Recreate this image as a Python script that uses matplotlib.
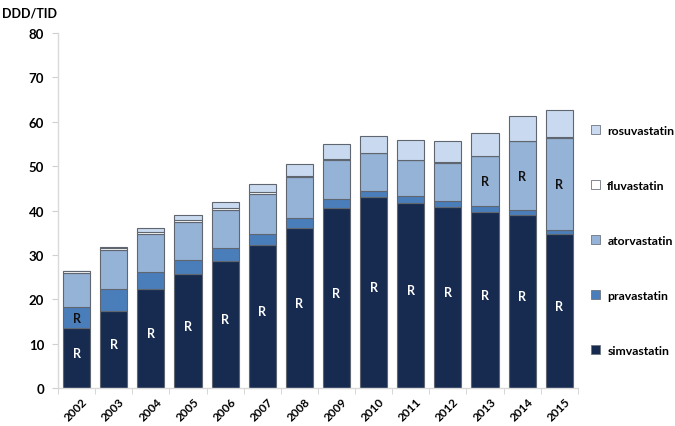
import matplotlib
matplotlib.use("Agg")
import matplotlib.pyplot as plt
from matplotlib.patches import Patch
from matplotlib.ticker import FixedLocator
from matplotlib.transforms import ScaledTranslation
import numpy as np

plt.rcParams['font.family'] = ['Lato', 'DejaVu Sans']
plt.rcParams['font.weight'] = 'bold'

years = ['2002', '2003', '2004', '2005', '2006', '2007', '2008',
         '2009', '2010', '2011', '2012', '2013', '2014', '2015']
simvastatin = [13.6, 17.4, 22.4, 25.7, 28.7, 32.3, 36.1, 40.7, 43.0, 41.8, 40.9, 39.8, 39.1, 34.8]
pravastatin = [4.6, 4.9, 3.9, 3.3, 2.8, 2.5, 2.2, 1.9, 1.4, 1.4, 1.2, 1.3, 1.1, 0.8]
atorvastatin = [7.8, 8.8, 8.4, 8.5, 8.7, 8.9, 9.2, 8.8, 8.5, 8.2, 8.7, 11.1, 15.4, 20.8]
fluvastatin = [0.4, 0.4, 0.4, 0.5, 0.5, 0.5, 0.4, 0.2, 0.1, 0.1, 0.1, 0.1, 0.1, 0.1]
rosuvastatin = [0.0, 0.3, 0.9, 1.0, 1.2, 1.7, 2.5, 3.4, 3.8, 4.3, 4.7, 5.2, 5.6, 6.2]

series_names = ['simvastatin', 'pravastatin', 'atorvastatin', 'fluvastatin', 'rosuvastatin']
series_colors = ['#172B50', '#4A7EBB', '#95B3D7', '#FFFFFF', '#C9DAF0']
series = [simvastatin, pravastatin, atorvastatin, fluvastatin, rosuvastatin]

r_simva_years = list(range(14))
r_prava_years = [0]
r_atorva_years = [11, 12, 13]

fig = plt.figure(figsize=(6.75, 4.27), dpi=100)
ax = fig.add_axes([0.086, 0.0883, 0.770, 0.832])

x = np.arange(len(years))
bottom = np.zeros(len(years))
width = 0.73
for vals, name, col in zip(series, series_names, series_colors):
    v = np.array(vals)
    ax.bar(x, v, width, bottom=bottom, color=col, edgecolor='#5F6670',
           linewidth=0.8, label=name, zorder=2)
    bottom = bottom + v

simv = np.array(simvastatin)
prav = np.array(pravastatin)
ator = np.array(atorvastatin)
for i in r_simva_years:
    ax.text(x[i], simv[i] / 2 + 1.2, 'R', color='white', ha='center', va='center',
            fontsize=9, fontweight='bold', zorder=3)
for i in r_prava_years:
    ax.text(x[i], simv[i] + prav[i] / 2, 'R', color='#111111', ha='center', va='center',
            fontsize=9, fontweight='bold', zorder=3)
for i in r_atorva_years:
    ax.text(x[i], simv[i] + prav[i] + ator[i] / 2, 'R', color='#111111', ha='center',
            va='center', fontsize=9, fontweight='bold', zorder=3)

ax.set_xlim(-0.5, len(years) - 0.5)
ax.set_ylim(0, 80)
ax.set_yticks(np.arange(0, 81, 10))
ax.tick_params(axis='y', labelsize=9.5, length=4, color='#D0D0D0', pad=6)
for lab in ax.get_yticklabels():
    lab.set_fontweight('bold')

ax.set_xticks(x)
ax.set_xticklabels(years, rotation=45, ha='right', rotation_mode='anchor',
                   fontsize=8.5, fontweight='bold')
ax.tick_params(axis='x', length=0, pad=5)
offset = ScaledTranslation(5 / 100, 0, fig.dpi_scale_trans)
for lab in ax.get_xticklabels():
    lab.set_transform(lab.get_transform() + offset)
ax.xaxis.set_minor_locator(FixedLocator(np.arange(-0.5, len(years), 1.0)))
ax.tick_params(axis='x', which='minor', length=4, color='#D0D0D0')

for s in ['top', 'right']:
    ax.spines[s].set_visible(False)
for s in ['left', 'bottom']:
    ax.spines[s].set_color('#D9D9D9')
    ax.spines[s].set_linewidth(1.0)

fig.text(0.003, 0.968, 'DDD/TID', fontsize=9, fontweight='bold', ha='left', va='center')

handles = [Patch(facecolor=c, edgecolor='#6E7580', linewidth=0.6, label=n)
           for n, c in zip(series_names, series_colors)][::-1]
leg = fig.legend(handles=handles, loc='upper left', bbox_to_anchor=(0.868, 0.716),
                 frameon=False, fontsize=8.8, handlelength=0.75, handleheight=0.75,
                 handletextpad=0.6, labelspacing=3.6, borderaxespad=0)
for t in leg.get_texts():
    t.set_fontweight('bold')

fig.savefig('out.png', dpi=100)
